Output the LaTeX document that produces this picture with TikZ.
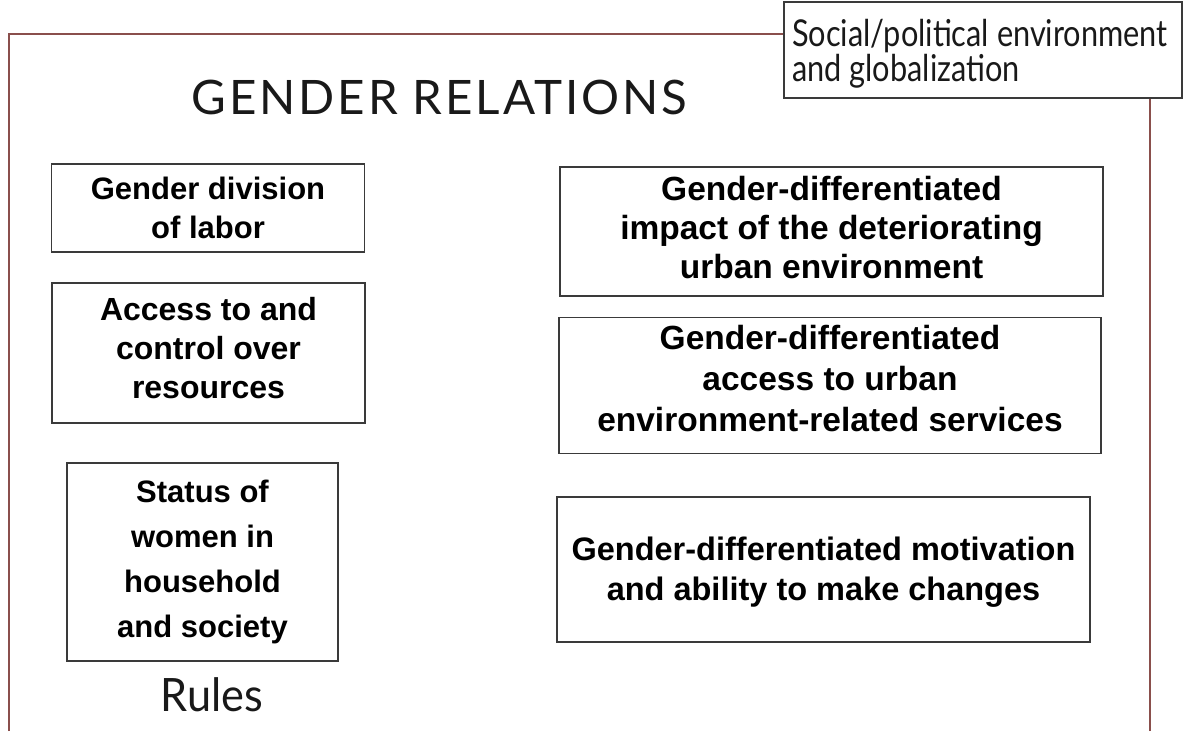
\documentclass[tikz,border=0pt]{standalone}
\usepackage{fontspec}
\setmainfont{Liberation Sans}
\newfontfamily\thinfont{Lato}
\newfontfamily\thinspaced{Lato}[LetterSpace=6]
\usepackage{graphicx}
\definecolor{framebrown}{HTML}{8A4F4C}
\definecolor{boxgray}{HTML}{3A3A3A}
\begin{document}
\begin{tikzpicture}[x=1pt,y=-1pt,
  framel/.style={draw=framebrown,line width=1.4pt},
  cbox/.style={draw=boxgray,line width=1.2pt,inner sep=0pt},
  ctext/.style={inner sep=0pt,align=center,text=black},
  thintext/.style={inner sep=0pt,anchor=base,font=\thinfont,text=black!90}]
\useasboundingbox (0,0) rectangle (1188,731);
% boxes
\node[cbox,minimum width=313pt,minimum height=88pt] (b1) at (208,208) {};
\node[ctext,font=\fontsize{31}{39}\selectfont\bfseries] (t1) at (b1.center) {Gender division\\of labor};
\node[cbox,minimum width=313pt,minimum height=140pt] (b2) at (208.5,353) {};
\node[ctext,font=\fontsize{32}{39}\selectfont\bfseries,yshift=5pt] (t2) at (b2.center) {Access to and\\control over\\resources};
\node[cbox,minimum width=271pt,minimum height=198pt] (b3) at (202.5,562) {};
\node[ctext,font=\fontsize{31}{45}\selectfont\bfseries] (t3) at (b3.center) {Status of\\women in\\household\\and society};
\node[cbox,minimum width=543pt,minimum height=129pt] (b4) at (831.5,231.5) {};
\node[ctext,font=\fontsize{33.5}{39}\selectfont\bfseries,yshift=4pt] (t4) at (b4.center) {Gender-differentiated\\impact of the deteriorating\\urban environment};
\node[cbox,minimum width=542pt,minimum height=136pt] (b5) at (830,385.5) {};
\node[ctext,font=\fontsize{33.5}{41}\selectfont\bfseries,yshift=7pt] (t5) at (b5.center) {Gender-differentiated\\access to urban\\environment-related services};
\node[cbox,minimum width=533pt,minimum height=145pt] (b6) at (823.5,569.5) {};
\node[ctext,font=\fontsize{32.5}{40}\selectfont\bfseries,yshift=-3pt] (t6) at (b6.center) {Gender-differentiated motivation\\and ability to make changes};
% social box
\node[draw=boxgray,line width=1.2pt,minimum width=398pt,minimum height=96pt,inner sep=0pt] (soc) at (983,50) {};
\node[thintext,anchor=base west] (s1) at (792,46) {\fontsize{37}{40}\selectfont\scalebox{0.83}[1]{Social/political environment}};
\node[thintext,anchor=base west] (s2) at (792,81) {\fontsize{37}{40}\selectfont\scalebox{0.83}[1]{and globalization}};
% titles
\node[thintext,font=\thinspaced] (title) at (439.5,114) {\fontsize{47.5}{52}\selectfont GENDER RELATIONS};
\node[thintext] (rules) at (212,711) {\fontsize{46}{50}\selectfont\scalebox{0.94}[1]{Rules}};
% frame
\coordinate (bl) at (9,731);
\coordinate (tl) at (9,34);
\coordinate (br) at (1150,731);
\draw[framel] (bl) -- (tl) -- (tl -| soc.west);
\draw[framel] (br) -- (br |- soc.south);
\end{tikzpicture}
\end{document}
